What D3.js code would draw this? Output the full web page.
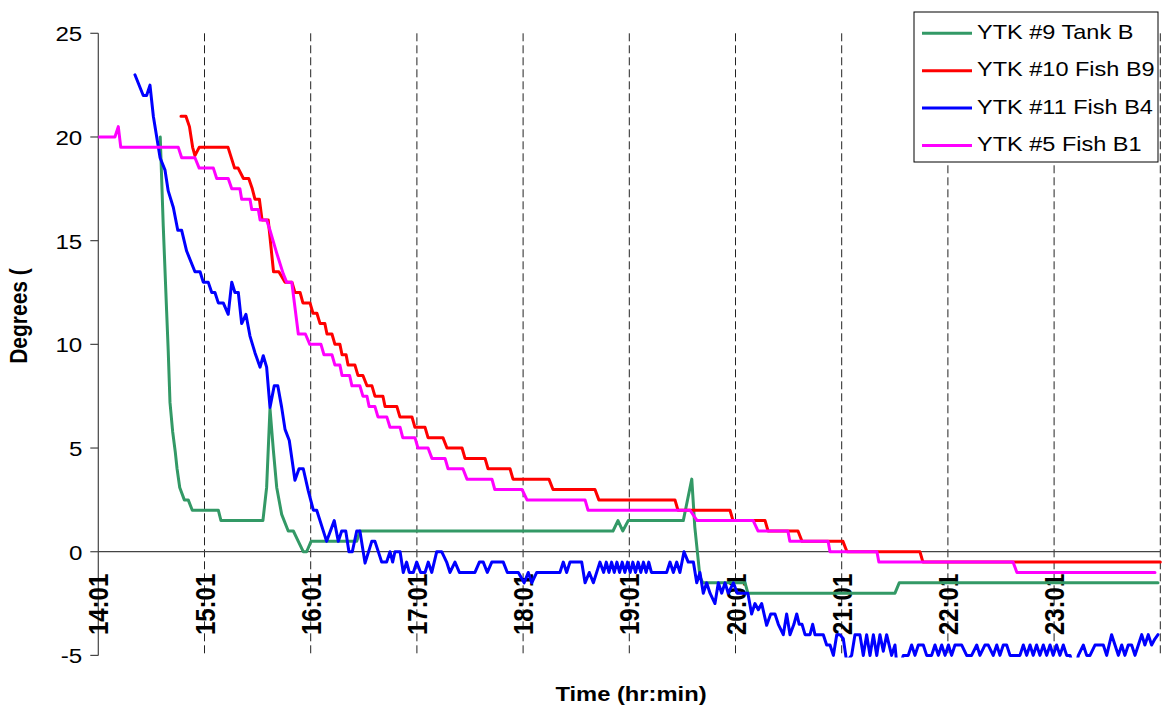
<!DOCTYPE html>
<html><head><meta charset="utf-8">
<script src="https://cdn.jsdelivr.net/npm/d3@7"></script>
<style>
html,body{margin:0;padding:0;background:#fff;}
text{font-family:"Liberation Sans",Arial,sans-serif;fill:#000;}
</style></head>
<body>
<svg id="chart" width="1165" height="708"></svg>
<script>
// Time is minutes after 14:01
const tickMinutes = [0,60,120,180,240,300,360,420,480,540];
const tickLabels = ["14:01","15:01","16:01","17:01","18:01","19:01","20:01","21:01","22:01","23:01"];
const yTicks = [-5,0,5,10,15,20,25];
const seriesNames = ["YTK #9 Tank B","YTK #10 Fish B9","YTK #11 Fish B4","YTK #5 Fish B1"];
const seriesColors = ["#339966","#FF0000","#0000FF","#FF00FF"];

const tankB9 = [[35,20],[36.7,15.7],[38.6,11.6],[39.5,9.7],[40.5,7.2],[42,5.8],[43.5,4.8],[44.5,4.0],[46,3.1],[48.6,2.5],[50.8,2.5],[53.1,2],[67.8,2],[69.3,1.5],[93,1.5],[95.1,3.1],[97,6.9],[98.9,4.9],[100.8,3.1],[103.6,1.8],[107.3,1.0],[110.2,1.0],[113,0.5],[115.8,0],[117.7,0],[120.2,0.5],[146,0.5],[147.8,1],[290.8,1],[293.6,1.5],[296.3,1],[299.4,1.5],[330.5,1.5],[335.3,3.5],[337,1.2],[339.9,-1.2],[341.5,-1.5],[365.4,-1.5],[367,-2],[450.1,-2],[452.5,-1.5],[598.7,-1.5]];

const fishB9 = [[46.7,21],[49.5,21],[51.5,20.5],[53.3,19.5],[54.6,19.1],[57,19.5],[73.3,19.5],[77,18.5],[79,18.5],[82,18],[85,18],[87,17.5],[88.5,17],[91,17],[92.5,16],[96,16],[99,13.5],[102,13.5],[105.5,13],[109.4,13],[111.1,12.5],[114,12.5],[115.6,12],[119.6,12],[121.3,11.5],[123.5,11.5],[125.3,11],[128,11],[129.2,10.5],[132,10.5],[133.7,10],[136.5,10],[137.7,9.5],[140,9.5],[141.1,9],[145,9],[146.7,8.5],[149.5,8.5],[151.8,8],[154.6,8],[156.3,7.5],[160.8,7.5],[162,7],[168.7,7],[170.4,6.5],[177.2,6.5],[178.9,6],[184.6,6],[186.3,5.5],[194.7,5.5],[197,5],[205.5,5],[207.2,4.5],[218.5,4.5],[220.2,4],[232.6,4],[234.3,3.5],[254.6,3.5],[256.9,3],[280.6,3],[282.8,2.5],[325.8,2.5],[327.5,2],[356.9,2],[358.6,1.5],[376.7,1.5],[378.4,1],[395.3,1],[397.6,0.5],[420.7,0.5],[423,0],[464.2,0],[465.9,-0.5],[600,-0.5]];

const fishB4 = [[20.7,23],[25.4,22],[27.3,22],[29.2,22.5],[31.1,21],[33,20],[34.9,19],[37.7,18.4],[39.5,17.4],[42.4,16.6],[44.9,15.5],[47.1,15.5],[49.9,14.5],[54.6,13.5],[57.5,13.5],[59.3,13],[62.1,13],[64.1,12.5],[65.9,12.5],[67.8,12],[70.6,12],[73.4,11.45],[75.4,13],[77.2,12.5],[79.1,12.5],[81,11],[83.4,11.45],[85.7,10.4],[88.5,9.6],[91.4,8.9],[93.2,9.45],[95.1,8.9],[97,6.96],[99.4,8],[101.4,8],[103.6,6.96],[105.5,5.9],[107.9,5.36],[111.1,3.45],[113.4,4],[115.8,4],[118.6,2.95],[121.5,2],[123.4,2],[129,0.5],[133.3,1.5],[135.6,0.5],[137.5,1],[139.8,1],[141.6,0],[143.5,0],[146,1],[147.8,1],[150.7,-0.55],[154.5,0.5],[156.3,0.5],[160.1,-0.5],[162.9,-0.5],[164.8,0],[166.3,-0.5],[167.6,0],[170.5,0],[172.3,-1],[174.2,-0.5],[175.7,-1],[178,-1],[179.9,-0.5],[182.1,-1],[184.6,-1],[186.4,-0.5],[188.4,-1],[191.2,0],[194,0],[196.8,-0.5],[198.7,-1],[201.5,-0.5],[204,-1],[212.8,-1],[215.3,-0.5],[217.5,-0.5],[219.8,-1],[222.3,-0.5],[228.8,-0.5],[231.1,-1],[237.3,-1],[240.6,-1.5],[242.9,-1],[244.9,-1.5],[247.7,-1],[260.8,-1],[262.7,-0.5],[264.6,-1],[266.5,-0.5],[273.1,-0.5],[275,-1.5],[277.4,-1],[279.7,-1.5],[283.4,-0.5],[285.5,-1],[287,-0.5],[288.5,-1],[290,-0.5],[291.5,-1],[293,-0.5],[294.5,-1],[296,-0.5],[297.5,-1],[299,-0.5],[300.5,-1],[302,-0.5],[303.5,-1],[305,-0.5],[306.5,-1],[308,-0.5],[309.5,-1],[311,-0.5],[312.5,-1],[315.5,-1],[321.1,-1],[323,-0.5],[324.9,-1],[326.8,-0.5],[328.6,-1],[330.9,0],[333.3,-0.5],[336.2,-0.5],[338.1,-1.5],[339.9,-1],[341.8,-2],[343.7,-1.5],[345.6,-2],[348.4,-2.5],[350.3,-1.5],[352.2,-2],[354.1,-1.5],[355.9,-2],[358.8,-1.5],[361,-2],[367,-2],[369.1,-3],[371,-2.5],[372.9,-2.8],[374.8,-2.5],[377.6,-3.55],[379.9,-3],[382.3,-3],[384.2,-3.5],[387,-4],[388.9,-3],[390.8,-4],[393,-3.5],[394.6,-3],[396,-3.5],[397.6,-3.5],[399.3,-4],[402.1,-4],[403.6,-3.5],[404.9,-4],[409.6,-4],[411.5,-4.5],[413.4,-4.5],[415.3,-5],[417.2,-4],[419,-4],[420.9,-4.2],[422.8,-5.3],[425.6,-5],[427.5,-4],[430.3,-4],[432.2,-5],[434.1,-4],[436,-5],[437.9,-4],[439.8,-5],[441.6,-4],[443.5,-4.8],[445.4,-4],[448.2,-5],[450.1,-4.5],[451.2,-5.5],[453,-5.5],[454.8,-5],[457.6,-5],[459.5,-4.5],[461.4,-5],[463.3,-4.5],[466.1,-4.5],[468,-5],[470.8,-5],[472.7,-4.5],[474.6,-5],[476.5,-4.5],[478.4,-5],[480.3,-4.5],[482.1,-5],[484,-4.5],[487.8,-4.5],[490.6,-5],[493.4,-5],[496.3,-4.5],[498.1,-5],[500.9,-4.5],[502.8,-4.5],[505.6,-5],[507.6,-4.5],[509.4,-5],[511.3,-4.5],[513.2,-4.5],[515.1,-5],[520.7,-5],[522.6,-4.5],[524.5,-5],[526.4,-4.5],[528.2,-5],[530.1,-4.5],[532,-5],[533.9,-4.5],[535.8,-5],[537.7,-4.5],[539.5,-5],[541.4,-4.5],[543.3,-5],[545.2,-4.5],[547.1,-5],[549,-5],[550.7,-5.5],[552.4,-5.5],[553.7,-5],[556.5,-4.5],[558.4,-5],[560.3,-5],[563.1,-4.5],[567.8,-4.5],[569.7,-5],[572.5,-4],[574.4,-4.5],[576.3,-5],[578.2,-4.5],[580,-5],[581.9,-4.5],[583.8,-4.5],[585.7,-5],[587.6,-4.5],[589.5,-4],[591.3,-4.5],[593.2,-4],[595.1,-4.5],[597,-4.2],[598.7,-4]];

const fishB1 = [[0,20],[9.4,20],[11.3,20.5],[12.7,19.5],[45.2,19.5],[47.1,19],[54.6,19],[57,18.5],[65,18.5],[66.9,18],[73.4,18],[75.4,17.5],[80,17.5],[81,17],[85.7,17],[86.7,16.5],[90.4,16.5],[91.4,16],[95.1,16],[97,15.5],[100.8,14.4],[104.5,13.4],[106.4,13],[109.3,13],[113,10.5],[117,10.5],[119.5,10],[125.8,10],[127.5,9.5],[132,9.5],[133.7,9],[136.5,9],[137.7,8.5],[142,8.5],[143.3,8],[147.8,8],[149.5,7.5],[151.8,7.5],[153,7],[156.3,7],[158,6.5],[163,6.5],[164.8,6],[170.5,6],[172,5.5],[178.9,5.5],[180.6,5],[186.3,5],[188.5,4.5],[195.9,4.5],[197.6,4],[206,4],[208.3,3.5],[222.4,3.5],[224,3],[239.4,3],[242.2,2.5],[275,2.5],[276.7,2],[334.3,2],[338.3,1.5],[370,1.5],[372.7,1],[389.6,1],[390.7,0.5],[412.3,0.5],[413.4,0],[439.9,0],[441,-0.5],[516.8,-0.5],[519,-1],[597,-1]];

const seriesData = [tankB9, fishB9, fishB4, fishB1];

const svg = d3.select("#chart");
const x = d3.scaleLinear().domain([0,600]).range([98.3,1160.3]);
const y = d3.scaleLinear().domain([-5,25]).range([655.4,33.3]);
const FONT = '"Liberation Sans", Arial, sans-serif';

// vertical dashed gridlines
svg.append("g").selectAll("line").data(tickMinutes.slice(1).concat([600])).join("line")
  .attr("x1",d=>x(d)).attr("x2",d=>x(d)).attr("y1",y(25)).attr("y2",y(-5))
  .attr("stroke","#222").attr("stroke-width",1).attr("stroke-dasharray","8,4");

// y axis
const ya = svg.append("g");
ya.append("line").attr("x1",x(0)).attr("x2",x(0)).attr("y1",y(25)).attr("y2",y(-5))
  .attr("stroke","#444").attr("stroke-width",1.2);
ya.selectAll("line.t").data(yTicks).join("line").attr("class","t")
  .attr("x1",x(0)-8).attr("x2",x(0)).attr("y1",d=>y(d)).attr("y2",d=>y(d))
  .attr("stroke","#444").attr("stroke-width",1.2);
ya.selectAll("text").data(yTicks).join("text")
  .attr("transform",d=>`translate(${x(0)-16},${y(d)+8}) scale(1.15,1)`)
  .attr("text-anchor","end").attr("font-size",21).text(d=>d);

// zero line (x axis)
svg.append("line").attr("x1",x(0)).attr("x2",x(600)).attr("y1",y(0)).attr("y2",y(0))
  .attr("stroke","#444").attr("stroke-width",1.3);

// x tick labels, rotated
svg.append("g").selectAll("text").data(tickMinutes).join("text")
  .attr("transform",(d)=>`translate(${x(d)+10},${y(0)+22}) scale(1.15,1) rotate(-90)`)
  .attr("text-anchor","end").attr("font-size",24).attr("font-weight","bold")
  .text((d,i)=>tickLabels[i]);

// clip for lines
svg.append("clipPath").attr("id","plotclip").append("rect")
  .attr("x",x(0)).attr("y",y(25)-5).attr("width",x(600)-x(0)+2).attr("height",y(-5)-y(25)+7);

const line = d3.line().x(d=>x(d[0])).y(d=>y(d[1]));
svg.append("g").attr("clip-path","url(#plotclip)").selectAll("path").data(seriesData).join("path")
  .attr("d",d=>line(d)).attr("fill","none")
  .attr("stroke",(d,i)=>seriesColors[i]).attr("stroke-width",3)
  .attr("stroke-linejoin","round").attr("stroke-linecap","round");

// axis titles
svg.append("text").attr("transform",`translate(631,701) scale(1.13,1)`)
  .attr("text-anchor","middle").attr("font-size",21).attr("font-weight","bold").text("Time (hr:min)");
svg.append("text").attr("transform",`translate(27,316) scale(1.15,1) rotate(-90)`)
  .attr("text-anchor","middle").attr("font-size",21).attr("font-weight","bold").text("Degrees (");

// legend
const lg = svg.append("g");
lg.append("rect").attr("x",914).attr("y",12).attr("width",244).attr("height",150)
  .attr("fill","#fff").attr("stroke","#000").attr("stroke-width",1);
const items = lg.selectAll("g").data(seriesNames).join("g")
  .attr("transform",(d,i)=>`translate(0,${33.3+i*37.4})`);
items.append("line").attr("x1",922).attr("x2",972).attr("y1",0).attr("y2",0)
  .attr("stroke",(d,i)=>seriesColors[i]).attr("stroke-width",3);
items.append("text").attr("transform","translate(977,5.5) scale(1.12,1)")
  .attr("font-size",21).text(d=>d);
</script>
</body></html>
